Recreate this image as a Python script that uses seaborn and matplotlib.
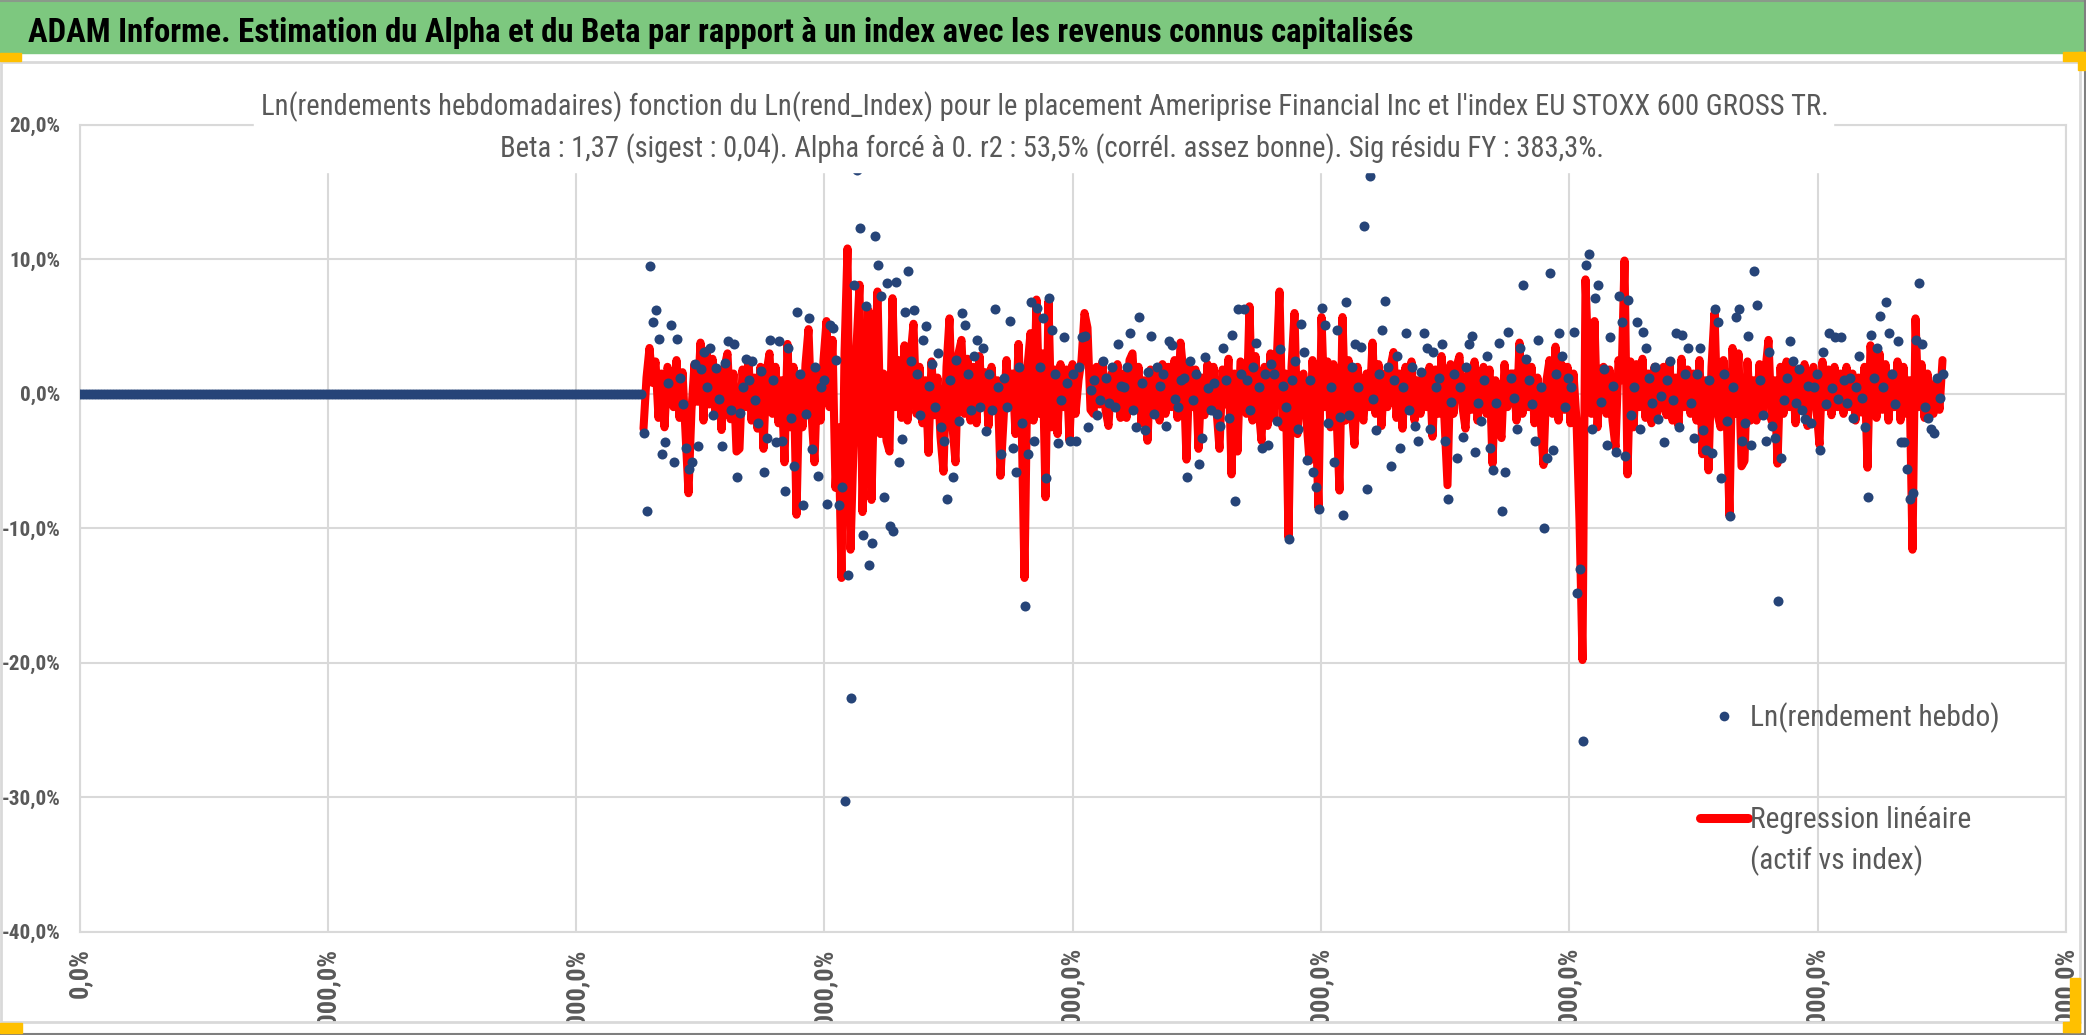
import numpy as np
import pandas as pd
import matplotlib
matplotlib.use("Agg")
import matplotlib.pyplot as plt
import seaborn as sns
from matplotlib import font_manager
from matplotlib.lines import Line2D
from matplotlib.patches import Rectangle
from matplotlib.ticker import FuncFormatter

# weeks before the stock history starts: returns are flat at 0
rend_flat = [0.0] * 188

# Ln(rendement hebdo), in %, one value per week
rend_hebdo = [
    -2.9, -8.7, 9.5, 5.3, 6.2, 4.1, -4.5, -3.6, 0.8, 5.1,
    -5.1, 4.1, 1.2, -0.8, -4.0, -5.6, -5.1, 2.2, -3.9, 1.8,
    3.1, 0.5, 3.4, -1.6, 1.9, -0.4, -3.9, 2.3, 3.9, -1.2,
    3.7, -6.2, -1.4, 0.5, 2.6, 1.0, 2.4, -0.5, -2.2, 1.7,
    -5.8, -3.3, 4.0, 1.0, -3.6, 3.9, -3.5, -7.2, 3.4, -1.8,
    -5.4, 6.1, 1.5, -8.3, -1.5, 5.6, -4.1, 2.0, -6.1, 0.5,
    1.0, -8.2, 5.1, 4.9, 2.5, -8.3, -6.9, -30.3, -13.5, -22.6,
    8.1, 16.6, 12.3, -10.5, 6.5, -12.7, -11.1, 11.7, 9.6, 7.3,
    -7.7, 8.2, -9.8, -10.2, 8.3, -5.1, -3.4, 6.1, 9.1, 2.4,
    6.2, 1.5, -1.6, 4.0, 5.0, 0.6, 2.2, -1.0, 3.0, -2.5,
    -3.5, -7.8, 1.0, -6.2, 2.5, -2.0, 6.0, 5.1, 1.5, -1.2,
    2.8, 4.0, -1.0, 3.4, -2.8, 1.5, -1.2, 6.3, 0.5, -4.5,
    1.2, -1.0, 5.4, -4.0, -5.8, 2.0, -2.2, -15.8, -4.5, 6.8,
    -3.5, 6.4, 2.0, 5.6, -6.3, 7.1, 4.7, 1.5, -3.7, -0.5,
    4.2, 0.8, -3.5, 1.5, -3.5, 2.0, 4.2, 4.3, -2.5, 0.3,
    1.0, -1.6, -0.5, 2.4, 1.2, -0.7, 2.0, -1.0, 3.7, 0.6,
    0.5, 2.0, 4.5, -1.2, -2.5, 5.7, 0.8, -2.7, 1.6, 4.3,
    -1.5, 2.0, 0.6, 1.5, -2.4, 3.9, 3.6, -0.4, -1.0, 1.0,
    1.2, -6.2, 2.4, -0.5, 1.5, -5.2, -3.3, 2.7, 0.4, -1.2,
    0.8, -1.5, -2.4, 3.4, 1.0, -1.8, 4.4, -8.0, 6.3, 1.5,
    6.3, 1.0, -1.2, 2.0, 3.8, 0.5, -4.0, 1.5, -3.8, 2.2,
    1.5, -2.0, 3.3, 0.6, -1.0, -10.8, 1.0, 2.4, -2.6, 5.2,
    3.1, -4.9, 1.0, -5.8, -6.9, -8.6, 6.4, 5.1, -2.2, 0.5,
    -5.1, 4.7, -1.7, -9.0, 6.8, -1.6, 2.0, 3.7, 0.5, 3.5,
    12.5, -7.1, 16.2, -0.4, -2.7, 1.5, 4.7, 6.9, 2.0, -5.4,
    1.0, 2.8, -4.0, 0.5, 4.5, -1.2, 2.0, -2.4, -3.5, 1.6,
    4.5, 3.4, -2.6, 3.1, 0.5, 1.2, 3.7, -3.5, -7.8, -0.6,
    1.5, -4.8, 0.5, -3.2, 2.0, 3.7, 4.3, -4.3, -0.7, -2.0,
    1.0, 2.8, -4.0, -5.7, -0.7, 3.8, -8.7, -5.8, 4.6, 1.2,
    -0.3, -2.6, 3.4, 8.1, 2.6, 1.0, -0.8, -3.5, 4.0, 0.5,
    -10.0, -4.8, 9.0, -4.2, 1.5, 4.5, 2.8, -1.0, 1.2, 0.5,
    4.6, -14.8, -13.0, -25.8, 9.6, 10.4, -2.6, 7.1, 8.1, -0.6,
    1.8, -3.8, 4.2, 0.6, -4.3, 7.3, 5.3, -4.6, 7.0, -1.6,
    0.5, 5.3, -2.6, 4.6, 3.4, 1.2, -0.7, 2.0, -1.9, -0.2,
    -3.6, 1.0, 2.4, -0.5, 4.5, -2.5, 4.4, 1.5, 3.4, -0.7,
    -3.3, 1.5, 3.4, -2.7, -4.2, 1.0, -4.4, 6.3, 5.3, -6.3,
    1.5, -2.0, -9.1, 0.5, 5.7, 6.3, -3.5, -2.2, 4.3, -3.8,
    9.1, 6.6, 1.0, -1.6, -3.5, 3.1, -2.4, -3.3, -15.4, -4.8,
    -0.5, 1.2, 3.9, 2.4, -0.7, 1.8, -1.2, -1.9, 0.6, -2.2,
    0.5, 1.5, -4.2, 3.1, -0.8, 4.5, 0.4, 4.2, -0.4, 4.2,
    1.0, -0.7, 1.2, -1.8, 0.5, 2.8, -0.3, -2.5, -7.7, 4.4,
    1.2, 3.4, 5.8, 0.5, 6.8, 4.5, 1.5, -0.8, 3.9, -3.6,
    -3.6, -5.6, -7.8, -7.4, 4.0, 8.2, 3.7, -1.0, -1.8, -2.6,
    -2.9, 1.2, -0.3, 1.5,
]

# regression line (beta x index return), in %, same weeks as rend_hebdo
regression = [
    -2.6, 1.2, 3.4, 0.8, 2.4, -1.8, 1.5, -2.5, 2.0, 1.0,
    -1.0, 2.5, -1.8, 1.6, -2.9, -7.4, -1.2, 2.2, -0.6, 3.8,
    -2.0, 3.2, -0.8, 2.6, -1.5, 1.8, -2.7, 2.0, 3.0, -1.9,
    1.5, -4.3, -4.1, 1.8, -1.0, 2.5, -2.0, 1.2, -2.6, 2.0,
    -4.1, 1.6, 3.0, -1.5, 2.0, -2.2, 1.0, -5.1, 3.7, -2.5,
    2.0, -9.0, 1.0, -2.5, 2.2, 4.8, -1.5, -5.1, 1.8, -2.0,
    2.5, 5.4, -1.0, 4.0, -7.0, -2.5, -13.7, 3.0, 10.8, -11.6,
    -4.0, 3.5, 8.1, -8.8, 2.0, 6.2, -7.9, 1.5, 7.6, -3.0,
    1.5, -3.5, -4.3, 7.1, -1.0, 2.5, -1.8, 3.6, -2.0, 2.8,
    5.2, -1.5, 2.0, -2.2, 1.0, -4.4, 2.4, -1.6, 1.2, -3.2,
    -5.8, 2.0, 5.6, -2.5, -5.1, 3.0, 4.0, -1.5, 2.6, -2.0,
    2.0, -2.2, 2.8, -1.0, 1.6, -2.4, 2.0, -1.2, 1.0, -6.1,
    -2.0, 2.5, -1.0, 1.5, -3.0, 3.7, -1.5, -13.7, 2.0, 4.5,
    -2.0, 7.0, -1.5, 3.0, -7.7, 6.9, -2.5, 1.8, -3.0, 2.2,
    -1.0, 1.8, -3.5, 2.2, -1.5, 1.0, 2.5, 6.0, 4.9, -1.2,
    -1.5, 2.0, -0.8, 2.4, -1.2, -2.4, 1.5, -0.6, 2.2, -1.8,
    1.5, -1.8, 2.5, 3.0, -1.0, 2.0, -2.2, 1.0, -3.5, 1.8,
    -1.2, 1.6, -2.0, 2.2, -1.5, 2.0, -1.0, 2.5, -1.8, 3.8,
    1.5, -4.9, 2.0, -1.0, 1.8, -4.1, 1.2, -1.6, 2.2, -1.0,
    2.0, -1.2, -4.1, 1.8, -0.8, 2.6, -6.0, 1.5, -4.3, 2.4,
    2.0, -1.5, 6.5, -2.0, 2.8, -1.0, -3.5, 2.0, -2.4, 3.0,
    -1.8, 2.0, 7.6, -2.5, 1.5, -10.7, 2.0, 6.0, -3.0, 1.2,
    1.5, -2.0, -5.0, 2.5, -1.5, -8.5, 5.7, -1.0, 2.4, -2.5,
    2.2, -1.5, -7.2, 5.7, -2.0, 2.5, -1.0, -3.8, 2.0, -1.2,
    -2.0, 1.5, -1.0, 3.8, -1.5, 2.2, -2.4, 1.5, -1.0, 2.0,
    3.1, -1.8, 1.5, -2.6, 2.0, -1.0, 2.4, -2.0, 1.0, -1.5,
    1.5, -1.0, 2.0, -3.2, 1.8, -1.5, 2.8, -2.0, -6.8, 2.2,
    -1.5, 2.0, 2.8, -1.0, -2.6, 1.5, -1.2, 2.4, -2.0, 1.0,
    2.0, -1.5, 1.8, -5.2, 1.0, -2.0, -3.3, 2.2, -1.0, 1.5,
    1.5, -2.0, 3.8, -1.5, 2.4, -1.0, 2.0, -2.2, 1.2, -1.8,
    -5.3, 1.0, 2.5, -1.5, 3.5, -2.0, 2.2, -1.2, 2.0, -2.2,
    1.5, -2.0, -9.5, -19.8, 8.5, 2.0, -1.5, 5.4, -2.5, 1.8,
    2.0, -1.5, 1.8, -2.0, -4.0, 2.5, 1.0, 9.9, -6.0, 2.4,
    -2.5, 2.2, -1.0, 2.6, -1.8, 1.5, -2.2, 2.0, -1.4, 1.0,
    2.0, -1.6, 2.4, -2.0, 1.2, -2.4, 2.6, -1.0, 1.8, -1.5,
    1.5, -2.0, 2.5, -4.5, 1.0, -5.7, 2.0, 6.0, -1.5, -2.5,
    2.5, -1.0, -9.1, 3.4, -1.5, 3.0, -5.4, -5.0, 2.4, -2.0,
    1.0, -2.0, 2.2, -1.5, 1.8, 4.0, -2.0, 1.0, -5.2, 2.0,
    -1.5, 2.4, -1.0, 2.0, -2.2, 1.6, -1.2, 2.2, -2.4, 1.4,
    2.0, -1.2, -3.8, 2.4, -1.0, 1.8, -1.6, 2.0, -1.0, 1.5,
    -1.5, 2.0, -1.0, 1.5, -2.0, 1.2, -1.4, 2.0, -5.5, 3.6,
    1.0, -1.8, 3.0, -1.2, 2.2, -2.0, 1.5, -1.0, 2.4, -2.0,
    2.0, -1.5, 1.0, -11.6, 5.6, -1.0, 2.2, -1.8, 1.5, -1.2,
    -1.5, 1.0, -1.2, 2.5,
]

x_tick_labels = ["0,0%", "5000,0%", "10000,0%", "15000,0%", "20000,0%",
                 "25000,0%", "30000,0%", "35000,0%", "40000,0%"]
y_ticks = [-40, -30, -20, -10, 0, 10, 20]

header = ("ADAM Informe. Estimation du Alpha et du Beta par rapport à un index "
          "avec les revenus connus capitalisés")
title_1 = ("Ln(rendements hebdomadaires) fonction du Ln(rend_Index) pour le placement "
           "Ameriprise Financial Inc et l'index EU STOXX 600 GROSS TR.")
title_2 = ("Beta : 1,37 (sigest : 0,04). Alpha forcé à 0. r2 : 53,5% "
           "(corrél. assez bonne). Sig résidu FY : 383,3%.")

dot_color = "#264478"
red = "#FF0000"
grey_txt = "#595959"
grid_col = "#D9D9D9"
yellow = "#FFC000"

sns.set_theme(style="white")
names = {f.name for f in font_manager.fontManager.ttflist}
font = "DejaVu Sans"
for cand in ["Liberation Sans Narrow", "Roboto Condensed", "Open Sans"]:
    if cand in names:
        font = cand
        break
plt.rcParams["font.family"] = [font, "DejaVu Sans"]

W, H = 2086, 1035
fig = plt.figure(figsize=(W / 100, H / 100), dpi=100)
renderer = fig.canvas.get_renderer()


def fx(px):
    return px / W


def fy(py):
    return 1 - py / H


def fit_size(text, width_px, **kw):
    probe = fig.text(0, 0, text, fontsize=20, **kw)
    w = probe.get_window_extent(renderer=renderer).width
    probe.remove()
    return 20 * width_px / w


ax = fig.add_axes([fx(79.5), fy(931.7), fx(2066) - fx(79.5), fy(124.7) - fy(931.7)])

y_all = rend_flat + rend_hebdo
df = pd.DataFrame({"semaine": np.arange(len(y_all)), "rendement": y_all})
df_reg = pd.DataFrame({"semaine": np.arange(len(rend_flat), len(y_all)),
                       "regression": regression})

sns.lineplot(data=df_reg, x="semaine", y="regression", ax=ax, color=red, lw=5.8,
             estimator=None, sort=False, zorder=2, legend=False,
             solid_capstyle="round", solid_joinstyle="round")
sns.scatterplot(data=df, x="semaine", y="rendement", ax=ax, color=dot_color, s=52,
                linewidth=0, zorder=3, legend=False)

step = (2066 - 79.5) / 3 / 8   # one grid column, in weeks
ax.set_xlim(0, 8 * step)
ax.set_ylim(-40, 20)
ax.set_xticks(np.arange(9) * step)
ax.set_yticks(y_ticks)
ax.set_xlabel("")
ax.set_ylabel("")
ax.grid(True, color=grid_col, lw=1.5)
ax.set_axisbelow(True)
for sp in ax.spines.values():
    sp.set_color(grid_col)
    sp.set_linewidth(1.5)

ysize = fit_size("20,0%", 51, fontweight="bold")
xsize = fit_size("0,0%", 50, fontweight="bold")
ax.yaxis.set_major_formatter(FuncFormatter(lambda v, p: f"{v:.1f}%".replace(".", ",")))
ax.set_xticklabels(x_tick_labels, rotation=90, fontsize=xsize, fontweight="bold",
                   color=grey_txt)
ax.tick_params(axis="both", length=0)
ax.tick_params(axis="y", pad=14, labelsize=ysize, labelcolor=grey_txt)
ax.tick_params(axis="x", pad=11.5)
for lab in ax.get_yticklabels():
    lab.set_fontweight("bold")

# legend
leg_size = fit_size("Ln(rendement hebdo)", 250)
leg_px = leg_size * 100 / 72
h_dot = Line2D([], [], ls="", marker="o", color=dot_color, markersize=7,
               markeredgewidth=0)
h_line = Line2D([], [], color=red, lw=6.5)
ax.legend([h_dot, h_line], ["Ln(rendement hebdo)", "Regression linéaire"],
          loc="upper left", bbox_to_anchor=(fx(1700), fy(702)),
          bbox_transform=fig.transFigure, frameon=False, fontsize=leg_size,
          labelcolor=grey_txt, handlelength=48 / leg_px, handletextpad=2 / leg_px,
          labelspacing=2.5, borderpad=0, borderaxespad=0)
fig.text(fx(1750), fy(869), "(actif vs index)", fontsize=leg_size, color=grey_txt,
         va="baseline", ha="left", zorder=4)

# frame pieces around the chart
fig.add_artist(Rectangle((fx(254), fy(172)), fx(1833) - fx(254), 87 / H,
                         transform=fig.transFigure, color="white", zorder=1))
fig.add_artist(Rectangle((0, 0), 1, 13 / H, transform=fig.transFigure,
                         color="white", zorder=2))
fig.add_artist(Rectangle((0, fy(52.7)), 1, 52.7 / H, transform=fig.transFigure,
                         color="#7DC87F", zorder=2))
for (xa, ya, xb, yb, c, w) in [
    (0, 62, 2080, 62, grid_col, 2.0),
    (2080, 62, 2080, 1022, grid_col, 2.0),
    (0, 1022, 2080, 1022, grid_col, 2.0),
    (1, 62, 1, 1022, grid_col, 2.0),
    (0, 0.5, W, 0.5, "#8A9A8A", 1.5),
    (W - 1.5, 0, W - 1.5, H, "#7F7F7F", 1.5),
    (0, H - 1.5, W, H - 1.5, "#7F7F7F", 1.5),
]:
    fig.add_artist(Line2D([fx(xa), fx(xb)], [fy(ya), fy(yb)], color=c, lw=w,
                          transform=fig.transFigure, zorder=3))
for (x0, y0, x1, y1) in [
    (0, 53, 21, 61), (2063, 52, 2085, 61), (2078, 52, 2085, 70),
    (0, 1023, 22, 1033), (2070, 978, 2080, 1032), (2063, 1022, 2080, 1032),
]:
    fig.add_artist(Rectangle((fx(x0), fy(y1)), fx(x1) - fx(x0), (y1 - y0) / H,
                             transform=fig.transFigure, color=yellow, zorder=4))

hsize = fit_size(header, 1385, fontweight="bold")
fig.text(fx(28), fy(42), header, fontsize=hsize, fontweight="bold", color="black",
         va="baseline", ha="left", zorder=5)
tsize = fit_size(title_1, 1566)
fig.text(fx(1045), fy(115), title_1, fontsize=tsize, color=grey_txt,
         va="baseline", ha="center", zorder=5)
fig.text(fx(1052), fy(157), title_2, fontsize=tsize, color=grey_txt,
         va="baseline", ha="center", zorder=5)

fig.savefig("out.png", dpi=100)
